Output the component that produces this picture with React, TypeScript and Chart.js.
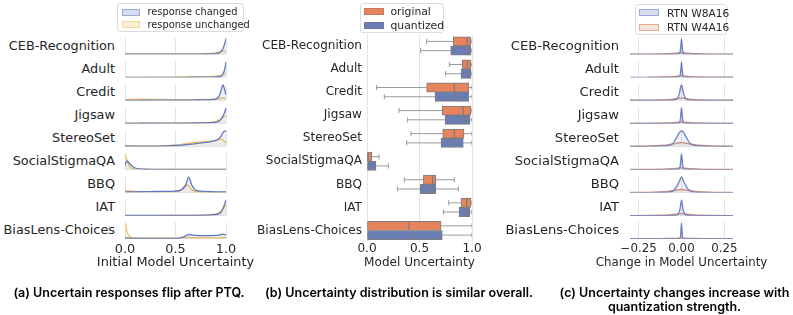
import React, { useEffect, useRef } from 'react';
import { Chart, registerables } from 'chart.js';

Chart.register(...registerables);
Chart.defaults.font.family = "'DejaVu Sans', sans-serif";
Chart.defaults.color = '#262626';

// ---------------- data ----------------
const ROW_LABELS = ['CEB-Recognition', 'Adult', 'Credit', 'Jigsaw', 'StereoSet', 'SocialStigmaQA', 'BBQ', 'IAT', 'BiasLens-Choices'];

// (a) density of initial model uncertainty
const A_X = [0, 0.02, 0.05, 0.1, 0.2, 0.3, 0.4, 0.5, 0.55, 0.6, 0.63, 0.66, 0.7, 0.8, 0.85, 0.9, 0.93, 0.95, 0.97, 0.99, 1.0];
const A_CHANGED = [
  [0.01, 0.01, 0.005, 0.004, 0.004, 0.004, 0.005, 0.006, 0.007, 0.008, 0.009, 0.01, 0.012, 0.02, 0.03, 0.05, 0.09, 0.17, 0.35, 0.75, 1.0],
  [0, 0, 0, 0, 0, 0, 0, 0.002, 0.003, 0.004, 0.005, 0.006, 0.008, 0.012, 0.016, 0.025, 0.04, 0.08, 0.2, 0.6, 1.0],
  [0.005, 0.005, 0.006, 0.008, 0.01, 0.012, 0.014, 0.016, 0.017, 0.018, 0.02, 0.022, 0.025, 0.035, 0.05, 0.1, 0.25, 0.6, 1.0, 0.6, 0.35],
  [0.01, 0.01, 0.01, 0.01, 0.012, 0.014, 0.016, 0.018, 0.02, 0.022, 0.024, 0.026, 0.03, 0.04, 0.05, 0.08, 0.14, 0.25, 0.45, 0.75, 0.95],
  [0.02, 0.02, 0.02, 0.02, 0.02, 0.025, 0.035, 0.06, 0.08, 0.11, 0.13, 0.15, 0.18, 0.25, 0.3, 0.38, 0.48, 0.62, 0.85, 0.95, 0.9],
  [0.3, 0.55, 0.35, 0.1, 0.02, 0.01, 0.005, 0.005, 0.004, 0.004, 0.004, 0.004, 0.003, 0.003, 0.003, 0.003, 0.003, 0.003, 0.003, 0.003, 0.003],
  [0.05, 0.05, 0.05, 0.05, 0.06, 0.07, 0.08, 0.1, 0.16, 0.45, 1.0, 0.5, 0.15, 0.07, 0.06, 0.05, 0.05, 0.05, 0.05, 0.05, 0.05],
  [0.01, 0.01, 0.01, 0.01, 0.01, 0.01, 0.01, 0.012, 0.013, 0.015, 0.016, 0.018, 0.02, 0.03, 0.05, 0.08, 0.13, 0.22, 0.45, 0.8, 1.0],
  [0.06, 0.05, 0.03, 0.02, 0.015, 0.015, 0.015, 0.02, 0.05, 0.18, 0.26, 0.25, 0.22, 0.2, 0.2, 0.21, 0.23, 0.27, 0.3, 0.27, 0.22],
];
const A_UNCHANGED = [
  [0.03, 0.02, 0.01, 0.006, 0.005, 0.005, 0.006, 0.008, 0.009, 0.01, 0.011, 0.012, 0.015, 0.03, 0.05, 0.09, 0.14, 0.18, 0.2, 0.17, 0.13],
  [0, 0, 0, 0, 0.003, 0.008, 0.015, 0.02, 0.022, 0.025, 0.027, 0.03, 0.035, 0.05, 0.06, 0.08, 0.11, 0.14, 0.18, 0.22, 0.24],
  [0.03, 0.05, 0.07, 0.08, 0.07, 0.06, 0.055, 0.05, 0.05, 0.05, 0.05, 0.05, 0.05, 0.06, 0.07, 0.09, 0.12, 0.15, 0.17, 0.14, 0.1],
  [0.04, 0.035, 0.03, 0.025, 0.02, 0.02, 0.02, 0.022, 0.024, 0.026, 0.028, 0.03, 0.035, 0.05, 0.07, 0.12, 0.2, 0.28, 0.38, 0.45, 0.45],
  [0.06, 0.05, 0.04, 0.03, 0.02, 0.02, 0.04, 0.08, 0.12, 0.17, 0.2, 0.23, 0.26, 0.3, 0.33, 0.38, 0.43, 0.45, 0.4, 0.28, 0.2],
  [1.0, 0.6, 0.15, 0.04, 0.01, 0.005, 0.003, 0.002, 0.002, 0.002, 0.002, 0.002, 0.002, 0.002, 0.002, 0.002, 0.002, 0.002, 0.002, 0.002, 0.002],
  [0.12, 0.11, 0.1, 0.08, 0.06, 0.05, 0.05, 0.07, 0.14, 0.5, 0.45, 0.2, 0.07, 0.03, 0.03, 0.02, 0.02, 0.02, 0.02, 0.02, 0.02],
  [0, 0, 0, 0, 0, 0, 0.01, 0.015, 0.02, 0.02, 0.022, 0.025, 0.03, 0.05, 0.07, 0.12, 0.2, 0.3, 0.45, 0.6, 0.65],
  [1.0, 0.45, 0.12, 0.05, 0.03, 0.03, 0.03, 0.04, 0.05, 0.07, 0.08, 0.07, 0.06, 0.05, 0.05, 0.05, 0.06, 0.07, 0.08, 0.07, 0.06],
];

// (b) box statistics
const ORIG_MIN = [0.568, 0.784, 0.092, 0.305, 0.419, 0, 0.356, 0.778, 0];
const ORIG_Q1 = [0.822, 0.908, 0.568, 0.717, 0.721, 0, 0.537, 0.895, 0];
const ORIG_MED = [0.955, 0.955, 0.832, 0.917, 0.832, 0.01, 0.625, 0.949, 0.4];
const ORIG_Q3 = [0.987, 0.99, 0.968, 0.99, 0.924, 0.045, 0.654, 0.99, 0.705];
const ORIG_MAX = [1.0, 1.0, 1.0, 1.0, 1.0, 0.114, 0.832, 1.0, 1.0];
const QUANT_MIN = [0.511, 0.749, 0.165, 0.387, 0.378, 0, 0.289, 0.727, 0];
const QUANT_Q1 = [0.797, 0.895, 0.648, 0.743, 0.705, 0, 0.508, 0.876, 0];
const QUANT_MED = [0.965, 0.955, 0.87, 0.927, 0.822, 0.02, 0.61, 0.943, 0.419];
const QUANT_Q3 = [0.99, 0.99, 0.968, 0.981, 0.917, 0.086, 0.654, 0.98, 0.717];
const QUANT_MAX = [1.0, 1.0, 1.0, 1.0, 1.0, 0.203, 0.87, 1.0, 1.0];

// (c) density of change in model uncertainty
const C_X = [-0.3, -0.2, -0.12, -0.08, -0.05, -0.03, -0.02, -0.01, -0.005, 0, 0.005, 0.01, 0.02, 0.03, 0.05, 0.08, 0.12, 0.2, 0.3];
const C_W8A16 = [
  [0, 0, 0, 0.002, 0.005, 0.01, 0.02, 0.08, 0.4, 1.0, 0.4, 0.08, 0.02, 0.01, 0.005, 0.002, 0, 0, 0],
  [0, 0, 0, 0, 0.002, 0.005, 0.01, 0.06, 0.35, 1.0, 0.35, 0.06, 0.01, 0.005, 0.002, 0, 0, 0, 0],
  [0, 0, 0.002, 0.005, 0.02, 0.08, 0.2, 0.55, 0.85, 1.0, 0.85, 0.55, 0.2, 0.08, 0.02, 0.005, 0.002, 0, 0],
  [0, 0, 0, 0.002, 0.005, 0.01, 0.02, 0.08, 0.45, 1.0, 0.45, 0.08, 0.02, 0.01, 0.005, 0.002, 0, 0, 0],
  [0, 0.005, 0.02, 0.05, 0.2, 0.55, 0.75, 0.92, 0.98, 1.0, 0.98, 0.92, 0.75, 0.55, 0.2, 0.05, 0.02, 0.005, 0],
  [0, 0, 0, 0.002, 0.005, 0.01, 0.02, 0.1, 0.5, 1.0, 0.5, 0.1, 0.02, 0.01, 0.005, 0.002, 0, 0, 0],
  [0, 0.002, 0.01, 0.03, 0.1, 0.35, 0.55, 0.8, 0.93, 1.0, 0.93, 0.8, 0.55, 0.35, 0.1, 0.03, 0.01, 0.002, 0],
  [0, 0, 0.002, 0.005, 0.01, 0.04, 0.1, 0.35, 0.7, 1.0, 0.7, 0.35, 0.1, 0.04, 0.01, 0.005, 0.002, 0, 0],
  [0, 0, 0, 0, 0, 0.002, 0.005, 0.02, 0.2, 1.0, 0.2, 0.02, 0.005, 0.002, 0, 0, 0, 0, 0],
];
const C_W4A16 = [
  [0.005, 0.01, 0.02, 0.035, 0.06, 0.08, 0.09, 0.1, 0.1, 0.1, 0.1, 0.1, 0.09, 0.08, 0.06, 0.035, 0.02, 0.01, 0.005],
  [null, 0.01, 0.02, 0.03, 0.05, 0.07, 0.08, 0.09, 0.1, 0.1, 0.1, 0.09, 0.08, 0.07, 0.05, 0.03, 0.02, 0.01, 0.005],
  [0.01, 0.02, 0.03, 0.05, 0.08, 0.11, 0.13, 0.14, 0.15, 0.15, 0.15, 0.14, 0.13, 0.11, 0.08, 0.05, 0.03, 0.02, 0.01],
  [0.005, 0.01, 0.02, 0.03, 0.05, 0.07, 0.08, 0.09, 0.09, 0.09, 0.09, 0.09, 0.08, 0.07, 0.05, 0.03, 0.02, 0.01, 0.005],
  [0.01, 0.03, 0.07, 0.11, 0.16, 0.2, 0.22, 0.24, 0.25, 0.25, 0.25, 0.24, 0.22, 0.2, 0.16, 0.11, 0.07, 0.03, 0.01],
  [0.005, 0.01, 0.02, 0.04, 0.06, 0.08, 0.09, 0.1, 0.11, 0.11, 0.11, 0.1, 0.09, 0.08, 0.06, 0.04, 0.02, 0.01, 0.005],
  [0.01, 0.02, 0.05, 0.08, 0.12, 0.16, 0.18, 0.19, 0.2, 0.2, 0.2, 0.19, 0.18, 0.16, 0.12, 0.08, 0.05, 0.02, 0.01],
  [0.005, 0.01, 0.03, 0.05, 0.08, 0.1, 0.12, 0.13, 0.13, 0.13, 0.13, 0.13, 0.12, 0.1, 0.08, 0.05, 0.03, 0.01, 0.005],
  [0.002, 0.005, 0.01, 0.015, 0.02, 0.025, 0.03, 0.03, 0.03, 0.03, 0.03, 0.03, 0.03, 0.025, 0.02, 0.015, 0.01, 0.005, 0.002],
];

// ---------------- style / layout ----------------
const TEXT = '#262626';
const GRID = '#e4e4e4';
const FONT = "'DejaVu Sans', sans-serif";
const ROW_TOP0 = 37.8;
const ROW_STEP = 23.05;
const ROW_H = 16.5;
const AXIS_H = 30.8;
const PAD_X = 18;
const PAD_Y = 3;

const A_BLUE = '#5f78be';
const A_BLUE_FILL = 'rgba(95,120,190,0.10)';
const A_GOLD = '#f3c163';
const A_GOLD_FILL = 'rgba(243,193,99,0.12)';
const C_BLUE = '#6a80c4';
const C_BLUE_FILL = 'rgba(106,128,196,0.12)';
const C_ORNG = '#d6906f';
const C_ORNG_FILL = 'rgba(214,144,111,0.12)';
const B_ORNG = '#e7845d';
const B_BLUE = '#6a7cb4';
const B_LINE = '#7d7d7d';
const B_WHISK = '#9a9a9a';

type KdeProps = {
  xs: number[];
  a: (number | null)[];
  b: (number | null)[];
  colA: string; colB: string; fillA: string; fillB: string;
  xMin: number; xMax: number; step: number;
  plotLeft: number; plotTop: number; plotW: number;
  last: boolean; fontSize: number; tickPad: number;
  fmt: (v: number) => string;
};

function SmallKde(p: KdeProps) {
  const ref = useRef<HTMLCanvasElement>(null);
  const cLeft = Math.floor(p.plotLeft) - PAD_X;
  const cTop = Math.floor(p.plotTop) - PAD_Y;
  const padL = p.plotLeft - cLeft;
  const padT = p.plotTop - cTop;
  const cW = Math.ceil(padL + p.plotW + PAD_X);
  const cH = Math.ceil(padT + ROW_H + (p.last ? AXIS_H : PAD_Y));
  const padR = cW - padL - p.plotW;
  const padB = cH - padT - ROW_H - (p.last ? AXIS_H : 0);

  useEffect(() => {
    const vals = [...p.a, ...p.b].filter((v) => v !== null) as number[];
    const yMax = Math.max(...vals) * 1.06;
    const chart = new Chart(ref.current as HTMLCanvasElement, {
      type: 'line',
      data: {
        datasets: [
          {
            data: p.xs.map((x, i) => ({ x, y: p.a[i] })),
            borderColor: p.colA, backgroundColor: p.fillA, fill: 'origin',
            borderWidth: 1.3, pointRadius: 0, cubicInterpolationMode: 'monotone', spanGaps: false, order: 0,
          },
          {
            data: p.xs.map((x, i) => ({ x, y: p.b[i] })),
            borderColor: p.colB, backgroundColor: p.fillB, fill: 'origin',
            borderWidth: 1.3, pointRadius: 0, cubicInterpolationMode: 'monotone', spanGaps: false, order: 1,
          },
        ],
      } as any,
      options: {
        responsive: false,
        animation: false,
        events: [],
        layout: { padding: { left: padL, right: padR, top: padT, bottom: padB }, autoPadding: false },
        plugins: { legend: { display: false }, tooltip: { enabled: false } },
        scales: {
          x: {
            type: 'linear', min: p.xMin, max: p.xMax,
            border: { display: false },
            grid: { color: GRID, drawTicks: false, lineWidth: 1 },
            ticks: {
              display: p.last, stepSize: p.step, includeBounds: false, padding: p.tickPad,
              color: TEXT, font: { size: p.fontSize, family: FONT }, maxRotation: 0,
              callback: (v: any) => p.fmt(Number(v)),
            },
            afterFit: (s: any) => { s.height = p.last ? AXIS_H : 0; },
          },
          y: {
            type: 'linear', min: 0, max: yMax,
            border: { display: false },
            grid: { color: GRID, drawTicks: false, lineWidth: 1 },
            ticks: { display: false, maxTicksLimit: 3, includeBounds: false },
            afterFit: (s: any) => { s.width = 0; },
          },
        },
      } as any,
    });
    return () => chart.destroy();
  }, []);

  return (
    <canvas
      ref={ref}
      width={cW}
      height={cH}
      style={{ position: 'absolute', left: cLeft, top: cTop, width: cW, height: cH }}
    />
  );
}

const B_CANVAS_LEFT = 238;
const B_CANVAS_W = 252;

function BoxPanel() {
  const ref = useRef<HTMLCanvasElement>(null);
  useEffect(() => {
    const boxes = (q1: number[], q3: number[], off: number) =>
      ROW_LABELS.map((_, i) => ({ y: i + off, x: [q1[i], q3[i]] }));
    const whisk = (mn: number[], q1: number[], q3: number[], mx: number[], off: number) =>
      ROW_LABELS.flatMap((_, i) => [
        { x: mn[i], y: i + off }, { x: q1[i], y: i + off }, { x: null, y: i + off },
        { x: q3[i], y: i + off }, { x: mx[i], y: i + off }, { x: null, y: i + off },
      ]);
    const meds = (md: number[], off: number) => ROW_LABELS.map((_, i) => ({ x: md[i], y: i + off }));
    const capRadius = (ctx: any) => (ctx.dataIndex % 6 === 0 || ctx.dataIndex % 6 === 4 ? 2.6 : 0);
    const barDs = (label: string, data: any[], color: string) => ({
      type: 'bar', label, data, yAxisID: 'yl', xAxisID: 'x',
      backgroundColor: color, borderColor: B_LINE, borderWidth: 1, borderSkipped: false,
      grouped: false, categoryPercentage: 1.0, barPercentage: 1.0, order: 2,
    });
    const lineDs = (data: any[]) => ({
      type: 'line', data, yAxisID: 'yl', xAxisID: 'x',
      borderColor: B_WHISK, borderWidth: 1, showLine: true, spanGaps: false,
      pointStyle: 'line', pointRotation: 90, pointRadius: capRadius, pointBorderColor: B_WHISK,
      pointBorderWidth: 1, pointHoverRadius: 0, order: 3,
    });
    const medDs = (data: any[]) => ({
      type: 'line', data, yAxisID: 'yl', xAxisID: 'x', showLine: false,
      pointStyle: 'line', pointRotation: 90, pointRadius: 4.5, pointBorderColor: B_LINE,
      pointBorderWidth: 1.3, pointHoverRadius: 0, order: 1,
    });
    const chart = new Chart(ref.current as HTMLCanvasElement, {
      type: 'bar',
      data: {
        labels: ROW_LABELS,
        datasets: [
          barDs('original', boxes(ORIG_Q1, ORIG_Q3, -0.2), B_ORNG),
          barDs('quantized', boxes(QUANT_Q1, QUANT_Q3, 0.2), B_BLUE),
          lineDs(whisk(ORIG_MIN, ORIG_Q1, ORIG_Q3, ORIG_MAX, -0.2)),
          lineDs(whisk(QUANT_MIN, QUANT_Q1, QUANT_Q3, QUANT_MAX, 0.2)),
          medDs(meds(ORIG_MED, -0.2)),
          medDs(meds(QUANT_MED, 0.2)),
        ],
      } as any,
      options: {
        indexAxis: 'y',
        responsive: false,
        animation: false,
        events: [],
        layout: { padding: { left: 0, right: 18, top: 34.5, bottom: 0 }, autoPadding: false },
        plugins: { legend: { display: false }, tooltip: { enabled: false } },
        scales: {
          x: {
            type: 'linear', position: 'bottom', min: 0, max: 1,
            border: { display: false },
            grid: { color: GRID, drawTicks: false },
            ticks: {
              stepSize: 0.5, padding: 0, color: TEXT, font: { size: 12.1, family: FONT }, maxRotation: 0,
              callback: (v: any) => Number(v).toFixed(1),
            },
            afterFit: (s: any) => { s.height = 28; },
          },
          y: {
            type: 'category', position: 'left', offset: true,
            grid: { display: false, drawTicks: false }, border: { display: false },
            ticks: { padding: 5, color: TEXT, font: { size: 12.1, family: FONT } },
            afterFit: (s: any) => { s.width = 367 - B_CANVAS_LEFT; },
          },
          yl: {
            type: 'linear', display: false, offset: false, min: -0.5, max: 8.5, reverse: true,
            ticks: { stepSize: 1, includeBounds: false },
          },
        },
      } as any,
    });
    return () => chart.destroy();
  }, []);
  return (
    <canvas ref={ref} width={B_CANVAS_W} height={270}
      style={{ position: 'absolute', left: B_CANVAS_LEFT, top: 0, width: B_CANVAS_W, height: 270 }} />
  );
}

type LegendItem = { label: string; fill: string; border: string };
function Legend(props: {
  left: number; top: number; width: number; height: number; items: LegendItem[];
  patchX: number; patchW: number; patchH: number; rowsY: number[]; textX: number; fontSize: number;
}) {
  return (
    <div style={{
      position: 'absolute', left: props.left, top: props.top, width: props.width, height: props.height,
      border: '1px solid #dcdcdc', borderRadius: 3, background: 'rgba(255,255,255,0.85)', boxSizing: 'border-box',
    }}>
      {props.items.map((it, i) => (
        <React.Fragment key={it.label}>
          <div style={{
            position: 'absolute', left: props.patchX, top: props.rowsY[i] - props.patchH / 2,
            width: props.patchW, height: props.patchH, background: it.fill, border: `1px solid ${it.border}`, boxSizing: 'border-box',
          }} />
          <div style={{
            position: 'absolute', left: props.textX, top: props.rowsY[i] - 7, height: 14, lineHeight: '14px',
            fontFamily: FONT, fontSize: props.fontSize, color: TEXT, whiteSpace: 'nowrap',
          }}>{it.label}</div>
        </React.Fragment>
      ))}
    </div>
  );
}

function RowLabels(props: { right: number; fontSize: number }) {
  return (
    <>
      {ROW_LABELS.map((l, i) => (
        <div key={l} style={{
          position: 'absolute', left: props.right - 200, width: 200, textAlign: 'right',
          top: ROW_TOP0 + ROW_STEP * i + ROW_H / 2 - 9, height: 18, lineHeight: '18px',
          fontFamily: FONT, fontSize: props.fontSize, color: TEXT, whiteSpace: 'nowrap',
        }}>{l}</div>
      ))}
    </>
  );
}

function AxisTitle(props: { center: number; text: string; fontSize: number }) {
  return (
    <div style={{
      position: 'absolute', left: props.center - 120, width: 240, textAlign: 'center',
      top: 262 - 9, height: 18, lineHeight: '18px',
      fontFamily: FONT, fontSize: props.fontSize, color: TEXT, whiteSpace: 'nowrap',
    }}>{props.text}</div>
  );
}

const capStyle: React.CSSProperties = {
  position: 'absolute', top: 286, textAlign: 'center', fontFamily: 'Inter, sans-serif',
  fontWeight: 600, fontSize: 12.5, lineHeight: '13.5px', color: '#000', whiteSpace: 'nowrap',
};

export default function App() {
  const fmtA = (v: number) => v.toFixed(1);
  const fmtC = (v: number) => (v < -1e-9 ? '\u2212' : '') + Math.abs(v).toFixed(2);
  return (
    <div style={{ position: 'absolute', left: 0, top: 0, width: 793, height: 315, background: '#fff', overflow: 'hidden' }}>
      {/* panel (a) */}
      <RowLabels right={115} fontSize={12.85} />
      {ROW_LABELS.map((l, i) => (
        <SmallKde key={'a' + l} xs={A_X} a={A_CHANGED[i]} b={A_UNCHANGED[i]}
          colA={A_BLUE} colB={A_GOLD} fillA={A_BLUE_FILL} fillB={A_GOLD_FILL}
          xMin={0} xMax={1} step={0.5}
          plotLeft={125} plotTop={ROW_TOP0 + ROW_STEP * i} plotW={101}
          last={i === ROW_LABELS.length - 1} fontSize={12.85} tickPad={3} fmt={fmtA} />
      ))}
      <AxisTitle center={175.5} text="Initial Model Uncertainty" fontSize={12.85} />
      <Legend left={117} top={3} width={127} height={29}
        items={[{ label: 'response changed', fill: 'rgba(95,120,190,0.25)', border: '#9aaad6' },
                { label: 'response unchanged', fill: 'rgba(243,193,99,0.25)', border: '#f6d695' }]}
        patchX={3.5} patchW={18} patchH={7} rowsY={[8.2, 20.5]} textX={29.5} fontSize={9.8} />

      {/* panel (b) */}
      <BoxPanel />
      <AxisTitle center={419.5} text="Model Uncertainty" fontSize={12.1} />
      <Legend left={360} top={3} width={84} height={30}
        items={[{ label: 'original', fill: B_ORNG, border: '#c47a5e' },
                { label: 'quantized', fill: B_BLUE, border: '#6d7596' }]}
        patchX={3} patchW={20} patchH={7.5} rowsY={[7.5, 21.5]} textX={29.5} fontSize={10.8} />

      {/* panel (c) */}
      <RowLabels right={619} fontSize={13.1} />
      {ROW_LABELS.map((l, i) => (
        <SmallKde key={'c' + l} xs={C_X} a={C_W8A16[i]} b={C_W4A16[i]}
          colA={C_BLUE} colB={C_ORNG} fillA={C_BLUE_FILL} fillB={C_ORNG_FILL}
          xMin={-0.3} xMax={0.3} step={0.25}
          plotLeft={630} plotTop={ROW_TOP0 + ROW_STEP * i} plotW={103}
          last={i === ROW_LABELS.length - 1} fontSize={11.8} tickPad={3} fmt={fmtC} />
      ))}
      <AxisTitle center={681.5} text="Change in Model Uncertainty" fontSize={11.8} />
      <Legend left={635} top={4} width={92} height={31}
        items={[{ label: 'RTN W8A16', fill: 'rgba(106,128,196,0.25)', border: '#9aaad6' },
                { label: 'RTN W4A16', fill: 'rgba(214,144,111,0.25)', border: '#dfae96' }]}
        patchX={3} patchW={20} patchH={7} rowsY={[7.5, 22]} textX={31} fontSize={10.6} />

      {/* captions */}
      <div style={{ ...capStyle, left: 0, width: 258 }}>(a) Uncertain responses flip after PTQ.</div>
      <div style={{ ...capStyle, left: 249, width: 300 }}>(b) Uncertainty distribution is similar overall.</div>
      <div style={{ ...capStyle, left: 554, width: 241 }}>(c) Uncertainty changes increase with<br />quantization strength.</div>
    </div>
  );
}
